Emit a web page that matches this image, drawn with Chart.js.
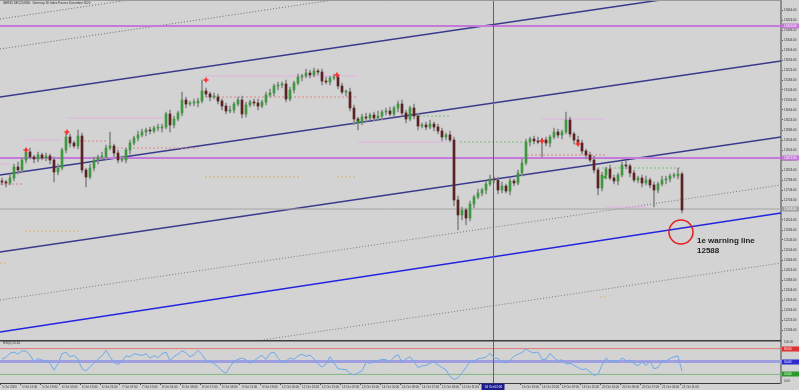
<!DOCTYPE html>
<html><head><meta charset="utf-8">
<script src="https://cdn.jsdelivr.net/npm/chart.js@4.4.1/dist/chart.umd.min.js"></script>
<style>
html,body{margin:0;padding:0;background:#d3d3d3;overflow:hidden}
#wrap{position:relative;width:799px;height:390px}
canvas{position:absolute;left:0}
#c1{top:0}
#c2{top:340px}
</style></head><body>
<div id="wrap"><canvas id="c1" width="799" height="340"></canvas><canvas id="c2" width="799" height="50"></canvas></div>
<script>
// ================= DATA =================
const chartTitle = "GER30 DEC20,M30:  Germany 30 Index Futures December 2020";
const rsiTitle = "RSI(8) 26.63";
const timeLabels = ["5 Oct 2020","5 Oct 11:00","5 Oct 19:00","6 Oct 05:00","6 Oct 13:00","6 Oct 21:00","7 Oct 07:00","7 Oct 15:00","8 Oct 01:00","8 Oct 09:00","8 Oct 17:00","9 Oct 03:00","9 Oct 11:00","9 Oct 19:00","12 Oct 05:00","12 Oct 13:00","12 Oct 21:00","13 Oct 07:00","13 Oct 15:00","14 Oct 01:00","14 Oct 09:00","14 Oct 17:00","15 Oct 03:00","15 Oct 11:00","15 Oct 19:00","16 Oct 05:00","16 Oct 13:00","16 Oct 21:00","19 Oct 07:00","19 Oct 15:00","20 Oct 01:00","20 Oct 09:00","20 Oct 17:00","21 Oct 03:00","21 Oct 11:00"];
const crosshairLabel = "16 Oct 02:00";
const priceTicks = [13464,13424,13384,13344,13304,13264,13224,13184,13144,13104,13064,13024,12984,12944,12904,12864,12824,12784,12744,12704,12664,12624,12584,12544,12504,12464,12424,12384,12344,12304,12264,12224,12184];
const firstOpen = 12780;
const closes = [12776,12772,12792,12836,12824,12864,12896,12876,12868,12884,
12872,12880,12864,12816,12832,12904,12956,12932,12920,12960,
12824,12796,12832,12864,12876,12876,12912,12920,12892,12864,
12864,12904,12932,12952,12964,12976,12984,12980,12992,12992,
12996,13048,13004,13028,13052,13104,13088,13092,13092,13100,
13140,13128,13116,13116,13100,13080,13060,13064,13088,13104,
13048,13084,13096,13092,13080,13096,13124,13132,13160,13164,
13168,13108,13144,13172,13196,13200,13212,13204,13220,13216,
13180,13176,13192,13196,13160,13136,13136,13072,13028,13016,
13036,13032,13044,13032,13040,13056,13060,13048,13072,13088,
13052,13028,13072,13040,13000,13004,12996,13008,12996,12980,
12956,12964,12944,12704,12644,12664,12632,12688,12716,12732,
12744,12768,12788,12784,12744,12760,12740,12780,12772,12812,
12852,12936,12948,12940,12936,12944,12932,12956,12976,12964,
12976,13024,12968,12944,12932,12900,12884,12864,12824,12752,
12804,12828,12792,12780,12804,12844,12840,12812,12784,12792,
12772,12784,12764,12744,12768,12784,12788,12800,12800,12808,
12664];
const wickUp = [12,8,16,12,20,8,12,16,8,12, 8,12,8,12,16,8,16,12,8,24, 12,8,16,12,8,20,12,56,8,12,
16,8,12,8,16,12,8,12,8,16, 12,8,16,12,8,32,12,8,16,12, 44,12,8,16,12,8,12,16,8,12,
16,12,8,12,16,8,12,16,8,12, 8,16,12,8,12,8,16,12,12,8, 12,16,8,12,8,12,8,16,12,8,
12,16,8,12,20,8,12,16,8,12, 16,12,8,16,12,8,12,16,8,12, 12,8,16,12,16,12,8,12,8,16,
8,12,16,8,12,16,8,12,8,12, 16,12,8,12,16,8,12,8,16,12, 8,32,12,8,16,12,8,12,16,8,
12,8,16,12,8,12,16,8,12,8, 12,16,8,12,8,16,12,8,12,24, 8];
const wickDn = [12,16,8,12,16,8,12,8,16,12, 8,12,16,40,12,8,12,16,8,12, 12,40,8,12,16,8,12,8,16,12,
8,12,16,8,12,8,16,12,8,12, 16,8,28,12,8,12,16,8,12,16, 8,12,16,8,12,16,12,8,12,8,
16,12,8,12,16,8,12,8,12,16, 12,12,8,12,8,16,8,12,8,12, 16,8,12,8,12,8,16,12,24,32,
12,16,8,12,8,16,12,8,12,16, 12,16,8,12,16,8,12,8,16,12, 16,12,8,24,60,20,28,12,16,8,
12,16,8,12,16,12,8,16,12,8, 12,8,16,12,8,60,12,16,8,12, 16,8,12,16,8,12,16,8,12,28,
12,16,8,12,16,8,12,16,8,12, 16,8,12,68,12,8,16,12,8,12, 12];
const rsiValues = [55,60,69,72,67,75,74,65,50,57, 53,52,46,30,45,68,72,61,64,56, 33,28,38,46,56,63,76,61,48,43,
50,63,61,68,66,64,68,58,64,59, 68,72,52,62,67,75,70,61,66,76, 66,52,50,45,38,28,23,38,50,55,
58,54,46,51,59,64,55,69,72,58, 48,51,58,55,63,67,62,65,56,45, 37,44,61,47,33,32,31,22,19,24,
28,48,46,50,52,55,54,50,60,66, 48,56,61,50,36,40,41,46,49,42, 36,31,15,8,12,24,36,50,51,56,
58,60,69,58,57,48,47,53,62,67, 71,79,73,70,72,55,55,69,59,52, 54,44,46,41,36,31,33,26,18,20,
42,58,50,52,50,58,52,53,45,40, 49,41,50,33,36,50,51,57,61,63, 27];
// channel lines: price at left edge and at right edge of the plot
const lineA = [13116, 13575];
const lineB = [12804, 13260];
const lineC = [12496, 12956];
const warningLine = [12176, 12652];
const dotLineE = [13428, 13887];
const dotLineF = [13308, 13767];
const dotLineG = [12304, 12764];
const dotLineH = [11988, 12452];
const magentaLevels = [13400, 12872];
const bidPrice = 12668;
const warningPrice = 12588;
// short level segments: [startBar, endBar, price]
const pinkLevels = [[0,2.5,12848],[6.25,15.5,12944],[16.75,40.75,13032],[51.25,89.25,13200],[89.5,111.75,12936],[135.4,151.25,13028],[151.25,161.7,12676]];
const salmonLevels = [[0,5.5,12768],[20,27,12940],[28.25,49.5,12912],[50.5,89.25,13116],[131.75,151.25,12884]];
const greenLevels = [[103.75,112.5,13040],[115,131.75,12936],[149.5,170,12832]];
const tanLevels = [[51.25,75,12796],[84.25,89.25,12796],[6.25,20,12580],[0,2,12452],[150,151.25,12316]];
const fractalUp = [[6.5,12904],[16.75,12976],[51.5,13184],[84.25,13204],[135.5,12940],[144.5,12928]];
const fractalDn = [[89.5,13016],[151.25,12796]];
const crosshairBar = 123.375;
const rsiLevels = [80, 50, 20];

// ================= BUILD =================
const X_MAX = 195.25, PRICE_MIN = 12144, PRICE_MAX = 13504;
const FONT = '"Liberation Sans", Arial, sans-serif';
const opens = closes.map((c,i)=> i===0 ? firstOpen : closes[i-1]);
const highs = closes.map((c,i)=> Math.max(opens[i], c) + wickUp[i]);
const lows = closes.map((c,i)=> Math.min(opens[i], c) - wickDn[i]);
const bx = i => i + 0.5;

function lineDs(data, color, width, dash, order){
  return {type:'line', data, borderColor:color, borderWidth:width, borderDash:dash||[], pointRadius:0, fill:false, tension:0, order, clip:0};
}
const edge = arr => [{x:0,y:arr[0]},{x:X_MAX,y:arr[1]}];
const hline = p => [{x:0,y:p},{x:X_MAX,y:p}];
const segDs = (list, color, dash) => list.map(s => lineDs([{x:s[0],y:s[2]},{x:s[1],y:s[2]}], color, 1, dash, 17));

const mainDatasets = [
  lineDs(edge(dotLineE), '#6e6e6e', 1, [1,2], 20),
  lineDs(edge(dotLineF), '#6e6e6e', 1, [1,2], 20),
  lineDs(edge(dotLineG), '#7a7a7a', 1, [1,2], 20),
  lineDs(edge(dotLineH), '#7a7a7a', 1, [1,2], 20),
  lineDs(edge(lineA), '#3a3a8c', 1.5, [], 19),
  lineDs(edge(lineB), '#3a3a8c', 1.5, [], 19),
  lineDs(edge(lineC), '#3a3a8c', 1.5, [], 19),
  lineDs(edge(warningLine), '#2424de', 1.5, [], 19),
  ...magentaLevels.map(p => lineDs(hline(p), '#c47ad8', 2, [], 18)),
  lineDs(hline(bidPrice), '#a4a4a4', 1, [], 18),
  ...segDs(pinkLevels, '#e4b2e4', []),
  ...segDs(salmonLevels, '#e08484', [2,2]),
  ...segDs(greenLevels, '#78c078', [2,2]),
  ...segDs(tanLevels, '#d8b070', [2,2]),
  {type:'bar', data: closes.map((c,i)=>({x:bx(i), y:[lows[i], highs[i]]})), backgroundColor:'#8a8a8a', barThickness:1, grouped:false, order:5},
  {type:'bar', data: closes.map((c,i)=>({x:bx(i), y:[opens[i], c]})), backgroundColor: closes.map((c,i)=> c>=opens[i] ? '#3f983f' : '#5a2222'), barThickness:2, minBarLength:1, grouped:false, order:4},
  lineDs([{x:crosshairBar,y:PRICE_MIN},{x:crosshairBar,y:PRICE_MAX}], '#5e5e8e', 1, [], 3),
  {type:'line', data: fractalUp.map(f=>({x:f[0],y:f[1]})), showLine:false, pointStyle:'cross', pointRadius:2.5, pointBorderWidth:1.6, pointBorderColor:'#ff2a2a', pointBackgroundColor:'#ff2a2a', order:2},
  {type:'line', data: fractalDn.map(f=>({x:f[0],y:f[1]})), showLine:false, pointStyle:'circle', pointRadius:1.6, pointBorderWidth:0, pointBackgroundColor:'#2ea02e', order:2}
];

function boxLabel(ctx, y, color, text, textColor){
  ctx.fillStyle = color;
  ctx.fillRect(782, Math.round(y) - 2.5, 17, 5);
  ctx.fillStyle = textColor || '#ffffff';
  ctx.font = '3px ' + FONT;
  ctx.textAlign = 'left'; ctx.textBaseline = 'middle';
  ctx.fillText(text, 784, Math.round(y));
}

const mainDecor = {
  id:'mainDecor',
  beforeDraw(chart){
    const ctx = chart.ctx; ctx.save();
    ctx.fillStyle = '#d3d3d3'; ctx.fillRect(0,0,chart.width,chart.height);
    ctx.restore();
  },
  afterDraw(chart){
    const ctx = chart.ctx, xs = chart.scales.x, ys = chart.scales.y, a = chart.chartArea;
    ctx.save();
    ctx.strokeStyle = '#9a9a9a'; ctx.lineWidth = 1;
    ctx.beginPath(); ctx.moveTo(0,0.5); ctx.lineTo(a.right,0.5); ctx.stroke();
    ctx.fillStyle = '#333'; ctx.font = '3px ' + FONT; ctx.textAlign='left'; ctx.textBaseline='middle';
    ctx.fillText(chartTitle, 3, 3.5);
    // warning circle and note
    const cx = xs.getPixelForValue(170.25), cy = ys.getPixelForValue(12576);
    ctx.strokeStyle = '#e41c1c'; ctx.lineWidth = 1.5;
    ctx.beginPath(); ctx.arc(cx, cy, 12, 0, Math.PI*2); ctx.stroke();
    ctx.fillStyle = '#1e1e1e'; ctx.font = 'bold 8px ' + FONT;
    ctx.fillText('1e warning line', xs.getPixelForValue(174.25), ys.getPixelForValue(12540));
    ctx.fillText(String(warningPrice), xs.getPixelForValue(174.25), ys.getPixelForValue(12500));
    // axis boxes
    magentaLevels.forEach(p => boxLabel(ctx, ys.getPixelForValue(p), '#c47ad8', p.toFixed(2)));
    boxLabel(ctx, ys.getPixelForValue(bidPrice), '#a0a0a0', bidPrice.toFixed(2));
    ctx.restore();
  }
};

new Chart(document.getElementById('c1'), {
  type:'bar',
  data:{datasets: mainDatasets},
  options:{
    responsive:false, animation:false, devicePixelRatio:1, events:[],
    layout:{padding:0, autoPadding:false},
    plugins:{legend:{display:false}, tooltip:{enabled:false}},
    scales:{
      x:{type:'linear', min:0, max:X_MAX, offset:false, display:false},
      y:{type:'linear', position:'right', min:PRICE_MIN, max:PRICE_MAX, beginAtZero:false,
        afterBuildTicks(s){ s.ticks = priceTicks.map(v=>({value:v})); },
        afterFit(s){ s.width = 18; s.paddingTop = 0; s.paddingBottom = 0; },
        ticks:{font:{size:3, family:FONT}, color:'#333', padding:1, callback:v=>Number(v).toFixed(2)},
        grid:{drawOnChartArea:false, drawTicks:true, tickLength:2, color:'#555'},
        border:{display:true, color:'#8c8c8c', width:2}}
    }
  },
  plugins:[mainDecor]
});

// ================= RSI PANEL =================
const rsiDatasets = [
  lineDs(hline(rsiLevels[0]), '#e07a7a', 1, [], 10),
  lineDs(hline(rsiLevels[1]), '#9e9ee0', 3, [], 10),
  lineDs(hline(rsiLevels[2]), '#7db87d', 1, [], 10),
  lineDs([{x:crosshairBar,y:0},{x:crosshairBar,y:100}], '#5e5e8e', 1, [], 3),
  lineDs(rsiValues.map((v,i)=>({x:bx(i), y:v})), '#70a9e8', 1, [], 2)
];
const rsiDecor = {
  id:'rsiDecor',
  beforeDraw(chart){
    const ctx = chart.ctx; ctx.save();
    ctx.fillStyle = '#d3d3d3'; ctx.fillRect(0,0,chart.width,chart.height);
    ctx.restore();
  },
  afterDraw(chart){
    const ctx = chart.ctx, ys = chart.scales.y, xs = chart.scales.x, a = chart.chartArea;
    ctx.save();
    ctx.strokeStyle = '#3c3c3c'; ctx.lineWidth = 1.5;
    ctx.beginPath(); ctx.moveTo(0,0.75); ctx.lineTo(a.right,0.75); ctx.stroke();
    ctx.fillStyle = '#333'; ctx.font = '3px ' + FONT; ctx.textAlign='left'; ctx.textBaseline='middle';
    ctx.fillText(rsiTitle, 3, 3.5);
    ctx.fillText('100.00', 784, 2.5);
    ctx.fillText('0.00', 784, 41);
    boxLabel(ctx, ys.getPixelForValue(rsiLevels[0]), '#e03030', rsiLevels[0].toFixed(2));
    boxLabel(ctx, ys.getPixelForValue(rsiLevels[1]), '#2a2ad0', rsiLevels[1].toFixed(2));
    boxLabel(ctx, ys.getPixelForValue(rsiLevels[2]), '#2a9a2a', rsiLevels[2].toFixed(2));
    const px = xs.getPixelForValue(crosshairBar);
    ctx.fillStyle = '#1c1c8c'; ctx.fillRect(Math.round(px) - 11.5, a.bottom + 0.5, 23, 6.5);
    ctx.fillStyle = '#ffffff'; ctx.textAlign = 'center';
    ctx.fillText(crosshairLabel, px, a.bottom + 3.8);
    ctx.restore();
  }
};
new Chart(document.getElementById('c2'), {
  type:'line',
  data:{datasets: rsiDatasets},
  options:{
    responsive:false, animation:false, devicePixelRatio:1, events:[],
    layout:{padding:0, autoPadding:false},
    plugins:{legend:{display:false}, tooltip:{enabled:false}},
    scales:{
      x:{type:'linear', min:0, max:X_MAX, offset:false, position:'bottom',
        afterBuildTicks(s){ s.ticks = timeLabels.map((_,i)=>({value:i*5})); },
        afterFit(s){ s.height = 7; s.paddingLeft = 0; s.paddingRight = 0; },
        ticks:{font:{size:3, family:FONT}, color:'#333', padding:0, align:'start', labelOffset:2, autoSkip:false, maxRotation:0, minRotation:0,
          callback:(v,i)=> Math.abs(v - crosshairBar)*4 < 20 ? '' : timeLabels[i]},
        grid:{drawOnChartArea:false, drawTicks:true, tickLength:2, color:'#555'},
        border:{display:true, color:'#3c3c3c', width:1}},
      y:{type:'linear', position:'right', min:0, max:100,
        afterFit(s){ s.width = 18; s.paddingTop = 0; s.paddingBottom = 0; },
        ticks:{display:false},
        grid:{display:false},
        border:{display:true, color:'#8c8c8c', width:2}}
    }
  },
  plugins:[rsiDecor]
});
</script></body></html>
